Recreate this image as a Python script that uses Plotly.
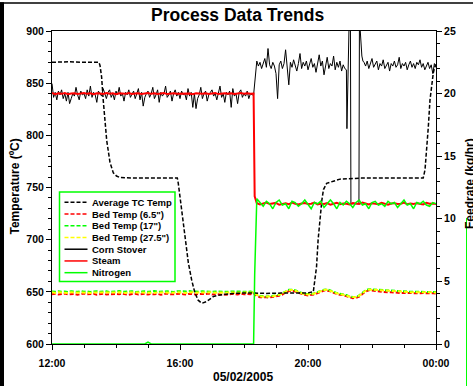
import pandas as pd
import plotly.graph_objects as go

BASE = pd.Timestamp("2005-05-02 12:00")

# ---------------- tick labels ----------------
x_tick_minutes = [0, 240, 480, 720]
x_tick_text = ["12:00", "16:00", "20:00", "00:00"]
temp_ticks = [600, 650, 700, 750, 800, 850, 900]
feed_ticks = [0, 5, 10, 15, 20, 25]

# ---------------- Average TC Temp (deg C, left axis) ----------------
tc_minutes = [0, 30, 60, 88, 90, 93, 96, 99.5, 102.6, 108.75, 115, 121, 128, 160, 200, 235,
              236.8, 240, 243, 249, 255.6, 262, 268, 274, 280.7, 290, 302.4, 315, 340, 370,
              400, 430, 460, 480, 490, 496, 499, 502.5, 506, 509, 515, 527.5, 540, 580, 620,
              660, 696, 699.4, 702.6, 705.6, 708.75, 712, 715, 718, 720]
tc_values = [870, 870.5, 870, 870, 867, 856, 834, 812, 795, 774, 764, 761, 759.5, 759, 759.3, 759,
             754, 741, 729, 700, 678, 661, 649, 642, 639, 640.7, 645.5, 647, 648.5, 649,
             648.5, 648.8, 649, 649, 650, 674, 700, 722, 738, 748, 754, 756, 758, 759, 759.2,
             759, 759, 767, 786, 808, 834, 850, 860, 866, 868]

# ---------------- Bed temperatures (deg C, 6-minute samples from 12:00) ----------------
bed_step_min = 6
bed_65 = [647.6, 648.2, 647.4, 647.9, 648.3, 647.5, 647.8, 648.0, 647.2, 647.9,
          648.4, 647.6, 647.7, 648.1, 647.3, 647.9, 648.2, 647.5, 647.8, 647.4,
          648.0, 647.7, 648.3, 647.6, 647.2, 647.9, 648.1, 647.5, 647.8, 648.2,
          647.4, 647.9, 647.6, 648.0, 647.3, 647.8, 648.3, 647.6, 647.9, 647.5,
          648.1, 647.7, 647.4, 648.2, 647.8, 647.5, 648.0, 647.6, 647.9, 648.3,
          647.4, 647.8, 647.6, 648.1, 647.7, 647.3, 648.0, 647.8, 647.5, 648.2,
          647.6, 647.9, 647.7,
          648.6, 646.0, 644.9, 644.5, 644.7, 644.6, 645.0, 645.3, 646.3, 647.4,
          649.5, 650.6, 651.1, 650.3, 649.2, 647.7, 647.1, 646.6, 646.9, 647.5,
          648.8, 650.0, 651.2, 651.1, 650.5, 649.0, 647.9, 647.1, 646.8, 645.6,
          644.6, 643.9, 644.1, 645.4, 648.0, 650.2, 651.5, 651.1, 650.8, 650.2,
          650.0, 649.9, 649.5, 649.6, 649.2, 649.3, 648.9, 649.0, 648.8, 649.0,
          648.7, 648.9, 648.6, 648.8, 648.5, 648.7, 648.6, 648.5]
bed_17 = [650.3, 650.0, 650.6, 650.1, 650.4, 649.9, 650.5, 650.2, 650.0, 650.7,
          650.1, 650.4, 649.8, 650.3, 650.6, 650.0, 650.2, 650.5, 649.9, 650.4,
          650.2, 650.7, 650.0, 650.3, 650.1, 650.6, 649.9, 650.4, 650.2, 650.5,
          650.0, 650.3, 650.8, 650.1, 650.4, 650.0, 650.5, 650.2, 649.9, 650.6,
          650.3, 650.0, 650.4, 650.7, 650.1, 650.3, 650.0, 650.5, 650.2, 650.6,
          649.9, 650.3, 650.1, 650.5, 650.2, 650.0, 650.4, 650.6, 650.1, 650.3,
          650.0, 650.4, 650.2,
          649.6, 647.4, 646.2, 645.8, 645.5, 645.9, 646.0, 646.6, 647.2, 648.7,
          650.5, 651.9, 652.1, 651.6, 650.0, 648.9, 648.0, 647.9, 647.8, 648.7,
          649.8, 651.2, 652.1, 652.4, 651.5, 650.2, 648.8, 648.4, 647.6, 646.9,
          645.6, 645.0, 645.2, 646.6, 649.1, 651.4, 652.5, 652.3, 651.8, 651.3,
          651.2, 650.9, 650.8, 650.6, 650.5, 650.3, 650.2, 650.1, 650.1, 650.0,
          650.0, 650.1, 649.9, 650.0, 649.8, 649.9, 649.9, 649.8]
bed_275 = [649.5, 649.0, 649.6, 649.2, 649.4, 648.9, 649.7, 649.3, 649.1, 649.5,
           649.2, 649.6, 648.9, 649.4, 649.3, 649.7, 649.0, 649.4, 649.5, 649.1,
           649.3, 649.6, 649.2, 649.0, 649.5, 649.4, 649.8, 649.1, 649.3, 649.6,
           649.2, 649.4, 649.0, 649.5, 649.3, 649.7, 649.2, 649.4, 649.1, 649.6,
           649.3, 649.5, 649.0, 649.4, 649.7, 649.2, 649.3, 649.6, 649.1, 649.4,
           649.5, 649.2, 649.6, 649.3, 649.0, 649.4, 649.5, 649.2, 649.3, 649.6,
           649.1, 649.4, 649.3,
           649.3, 647.0, 645.8, 645.4, 645.3, 645.5, 645.7, 646.2, 647.0, 648.3,
           650.2, 651.5, 651.8, 651.2, 649.8, 648.5, 647.7, 647.5, 647.6, 648.3,
           649.5, 650.8, 651.8, 652.0, 651.2, 649.8, 648.6, 648.0, 647.4, 646.5,
           645.3, 644.7, 644.8, 646.3, 648.8, 651.0, 652.2, 652.0, 651.5, 651.0,
           650.8, 650.6, 650.4, 650.3, 650.1, 650.0, 649.8, 649.8, 649.7, 649.7,
           649.6, 649.7, 649.5, 649.6, 649.4, 649.5, 649.5, 649.4]

# ---------------- Corn Stover feed (kg/hr, right axis) ----------------
corn_pre_start, corn_step_min = 0, 3          # 12:00 ... 18:18
corn_pre = [20.8, 19.7, 20.1, 19.5, 20.2, 19.9, 20.3, 19.6, 20.0, 19.4,
            20.1, 19.2, 19.6, 20.0, 19.8, 20.5, 19.9, 19.5, 20.2, 19.9,
            20.0, 19.6, 20.3, 19.8, 20.6, 19.7, 20.1, 19.9, 19.3, 20.2,
            20.0, 19.8, 20.4, 19.9, 19.6, 20.1, 20.3, 19.7, 20.0, 19.5,
            20.2, 19.9, 20.5, 19.8, 20.0, 19.4, 20.1, 19.9, 20.3, 19.7,
            19.9, 20.2, 19.6, 20.0, 20.4, 19.5, 20.1, 19.0, 19.7, 20.0,
            20.2, 19.7, 20.0, 20.5, 19.6, 19.9, 20.3, 19.3, 20.1, 19.8,
            20.0, 20.6, 19.7, 19.9, 20.2, 19.4, 20.0, 20.3, 19.8, 20.1,
            19.6, 20.2, 19.9, 20.0, 19.5, 20.4, 19.8, 20.1, 18.9, 20.0,
            18.8, 19.6, 19.9, 20.5, 19.6, 20.0, 20.2, 19.4, 19.9, 20.1,
            20.3, 19.8, 20.0, 19.5, 20.2, 20.6, 19.7, 20.0, 19.3, 20.1,
            19.9, 20.2, 18.9, 20.4, 19.8, 20.0, 19.2, 20.1, 20.3, 19.7,
            20.0, 19.8, 20.2, 19.6, 20.0, 19.9, 19.9]
corn_mid_start = 381                            # 18:21 ... 21:12
corn_mid = [21.6, 22.6, 22.2, 22.5, 22.0, 22.4, 22.8, 22.1, 23.6, 22.3,
            22.0, 22.5, 22.2, 21.6, 19.6, 22.3, 22.6, 22.0, 22.4, 23.5,
            22.2, 20.7, 22.5, 22.1, 22.7, 22.3, 21.8, 22.4, 23.2, 22.0,
            22.5, 22.2, 22.6, 21.9, 22.3, 22.8, 22.1, 22.4, 21.7, 22.5,
            23.1, 22.2, 22.6, 21.5, 22.3, 22.9, 22.0, 22.4, 22.2, 23.0,
            21.9, 22.5, 22.1, 22.6, 21.8, 22.3, 22.0, 21.9]
corn_event_minutes = [553, 554.5, 556, 557.5, 559.5, 560.5, 575.5, 576.5, 578, 579.5, 581, 583]
corn_event_values = [17.2, 21.8, 22.2, 26.5, 26.5, 11.2, 11.2, 26.5, 25.0, 23.8, 23.0, 22.6]
corn_tail_start = 585                           # 21:45 ... 00:00
corn_tail = [22.5, 22.2, 22.6, 22.0, 22.4, 22.8, 22.1, 22.3, 22.6, 21.9,
             22.4, 22.2, 22.7, 22.0, 22.3, 22.5, 21.8, 22.4, 22.2, 22.6,
             22.1, 22.3, 22.9, 22.0, 22.4, 22.2, 22.5, 21.9, 22.3, 22.6,
             22.1, 22.4, 22.0, 22.5, 22.3, 22.7, 22.1, 22.4, 21.9, 22.2,
             22.5, 22.0, 22.3, 21.6, 22.4, 22.1]

# ---------------- Steam and Nitrogen (kg/hr, right axis) ----------------
feed_minutes = list(range(0, 379, 6)) + [380] + list(range(384, 721, 6))
steam_values = [20.05, 19.96, 20.02, 19.98, 20.04, 19.95, 20.01, 20.03, 19.97, 20.0,
                20.05, 19.98, 20.02, 19.96, 20.03, 20.0, 19.97, 20.04, 19.99, 20.02,
                19.95, 20.03, 20.0, 19.98, 20.05, 19.97, 20.01, 20.03, 19.96, 20.0,
                20.04, 19.98, 20.02, 19.97, 20.0, 20.05, 19.96, 20.01, 20.03, 19.98,
                20.0, 19.97, 20.04, 20.01, 19.95, 20.02, 20.0, 19.98, 20.03, 19.97,
                20.01, 20.04, 19.96, 20.0, 20.02, 19.98, 20.03, 19.97, 20.0, 20.04,
                19.99, 20.02, 19.98, 20.0,
                11.8,
                11.25, 11.15, 11.22, 11.3, 11.18, 11.2, 11.27, 11.12, 11.2, 11.24,
                11.16, 11.3, 11.2, 11.14, 11.22, 11.26, 11.18, 11.2, 11.3, 11.15,
                11.22, 11.19, 11.25, 11.12, 11.2, 11.28, 11.17, 11.22, 11.2, 11.14,
                11.26, 11.2, 11.18, 11.3, 11.21, 11.15, 11.24, 11.2, 11.17, 11.27,
                11.2, 11.13, 11.22, 11.25, 11.18, 11.2, 11.3, 11.16, 11.22, 11.19,
                11.25, 11.2, 11.15, 11.28, 11.2, 11.22, 11.18]
nitrogen_values = [0, 0, 0, 0, 0, 0, 0, 0, 0, 0,
                   0, 0, 0, 0, 0, 0, 0, 0, 0, 0,
                   0, 0, 0, 0, 0, 0, 0, 0, 0, 0,
                   0.15, 0, 0, 0, 0, 0, 0, 0, 0, 0,
                   0, 0, 0, 0, 0, 0, 0, 0, 0, 0,
                   0, 0, 0, 0, 0, 0, 0, 0, 0, 0,
                   0, 0, 0, 0,
                   5.5,
                   11.6, 11.3, 11.0, 11.4, 11.2, 10.8, 11.3, 11.5, 11.1, 11.2,
                   10.8, 11.4, 11.3, 11.0, 11.2, 11.5, 11.1, 10.8, 11.3, 11.2,
                   11.4, 10.9, 11.2, 11.5, 11.2, 10.8, 11.3, 11.1, 11.4, 11.2,
                   10.9, 11.3, 11.5, 11.1, 11.2, 10.8, 11.3, 11.4, 11.1, 11.2,
                   11.0, 11.4, 11.2, 11.3, 10.9, 11.2, 11.5, 11.1, 11.2, 10.8,
                   11.3, 11.2, 11.4, 11.1, 11.0, 11.3, 11.2]

FONT = "Arial, Liberation Sans, sans-serif"


def to_time(minutes):
    return BASE + pd.to_timedelta(pd.Series(minutes, dtype=float), unit="m")


bed_minutes = [bed_step_min * i for i in range(len(bed_275))]
corn_minutes = ([corn_pre_start + corn_step_min * i for i in range(len(corn_pre))]
                + [corn_mid_start + corn_step_min * i for i in range(len(corn_mid))]
                + corn_event_minutes
                + [corn_tail_start + corn_step_min * i for i in range(len(corn_tail))])
corn_values = corn_pre + corn_mid + corn_event_values + corn_tail

DASH = "4px,2px"
fig = go.Figure()
fig.add_trace(go.Scatter(x=to_time(corn_minutes), y=corn_values, yaxis="y2", mode="lines",
                         name="Corn Stover", line=dict(color="black", width=1)))
fig.add_trace(go.Scatter(x=to_time(feed_minutes), y=steam_values, yaxis="y2", mode="lines",
                         name="Steam", line=dict(color="#ff0000", width=2)))
fig.add_trace(go.Scatter(x=to_time(feed_minutes), y=nitrogen_values, yaxis="y2", mode="lines",
                         name="Nitrogen", line=dict(color="#00ff00", width=1.5)))
fig.add_trace(go.Scatter(x=to_time(bed_minutes), y=bed_65, mode="lines", name='Bed Temp (6.5")',
                         line=dict(color="#ff0000", width=2, dash=DASH)))
fig.add_trace(go.Scatter(x=to_time(bed_minutes), y=bed_17, mode="lines", name='Bed Temp (17")',
                         line=dict(color="#00ff00", width=2, dash=DASH)))
fig.add_trace(go.Scatter(x=to_time(bed_minutes), y=bed_275, mode="lines", name='Bed Temp (27.5")',
                         line=dict(color="#ffff00", width=2, dash=DASH)))
fig.add_trace(go.Scatter(x=to_time(tc_minutes), y=tc_values, mode="lines", name="Average TC Temp",
                         line=dict(color="black", width=1.5, dash=DASH)))

# ---------------- layout geometry helpers (pixels -> paper) ----------------
W, H = 473, 386
L, R, T, B = 52, 436, 31, 344


def px(x):
    return (x - L) / (R - L)


def py(y):
    return (B - y) / (B - T)


shapes = []
annotations = []

# outer frame fragments (drawn below the plot layer, outside the plot area)
shapes.append(dict(type="rect", xref="paper", yref="paper", layer="below",
                   x0=px(0), x1=px(W), y0=py(2.3), y1=py(3.8),
                   fillcolor="black", line=dict(width=0)))
shapes.append(dict(type="rect", xref="paper", yref="paper", layer="below",
                   x0=px(0), x1=px(4), y0=py(2.3), y1=py(H),
                   fillcolor="black", line=dict(width=0)))
shapes.append(dict(type="line", xref="paper", yref="paper", x0=px(466.5), x1=px(466.5), y0=py(218),
                   y1=py(H), line=dict(color="#00ff00", width=1)))

# custom legend
legend_items = [("Average TC Temp", "black", DASH),
                ('Bed Temp (6.5")', "#ff0000", DASH),
                ('Bed Temp (17")', "#00ff00", DASH),
                ('Bed Temp (27.5")', "#ffff00", DASH),
                ("Corn Stover", "black", "solid"),
                ("Steam", "#ff0000", "solid"),
                ("Nitrogen", "#00ff00", "solid")]
shapes.append(dict(type="rect", xref="paper", yref="paper", x0=px(59.5), x1=px(175), y0=py(192),
                   y1=py(281.5), fillcolor="white", line=dict(color="#00ff00", width=1.5)))
for i, (name, color, dash) in enumerate(legend_items):
    yy = 202.3 + i * 11.73
    shapes.append(dict(type="line", xref="paper", yref="paper", x0=px(64.5), x1=px(87.5),
                       y0=py(yy), y1=py(yy), line=dict(color=color, width=1.5, dash=dash)))
    annotations.append(dict(xref="paper", yref="paper", x=px(90), y=py(yy), text=name,
                            showarrow=False, xanchor="left", yanchor="middle",
                            font=dict(family=FONT, size=9.5, color="black", weight="bold")))

# titles
annotations.append(dict(xref="paper", yref="paper", x=px(237.5), y=py(15.5), text="Process Data Trends",
                        showarrow=False, xanchor="center", yanchor="middle",
                        font=dict(family=FONT, size=17.5, color="black", weight="bold")))
annotations.append(dict(xref="paper", yref="paper", x=px(14), y=py(186.5), text="Temperature (ºC)",
                        showarrow=False, xanchor="center", yanchor="middle", textangle=-90,
                        font=dict(family=FONT, size=12, color="black", weight="bold")))
annotations.append(dict(xref="paper", yref="paper", x=px(470), y=py(184), text="Feedrate (kg/hr)",
                        showarrow=False, xanchor="center", yanchor="middle", textangle=-90,
                        font=dict(family=FONT, size=12, color="black", weight="bold")))
annotations.append(dict(xref="paper", yref="paper", x=px(243), y=py(377), text="05/02/2005",
                        showarrow=False, xanchor="center", yanchor="middle",
                        font=dict(family=FONT, size=12, color="black", weight="bold")))

tick_font = dict(family=FONT, size=10.5, color="black", weight="bold")
fig.update_layout(
    width=W, height=H, autosize=False,
    margin=dict(l=L, r=W - R, t=T, b=H - B, pad=0),
    paper_bgcolor="white", plot_bgcolor="white",
    showlegend=False,
    shapes=shapes, annotations=annotations,
    xaxis=dict(type="date", range=[BASE, BASE + pd.Timedelta(minutes=720)],
               tickmode="array", tickvals=list(to_time(x_tick_minutes)), ticktext=x_tick_text,
               ticks="outside", ticklen=5, tickwidth=1, tickcolor="black", ticklabelstandoff=4,
               minor=dict(tickmode="array", tickvals=list(to_time(list(range(0, 721, 60)))),
                          ticks="outside", ticklen=3, tickwidth=1, tickcolor="black"),
               showline=True, linecolor="black", linewidth=1, mirror=True,
               showgrid=False, zeroline=False, tickfont=tick_font),
    yaxis=dict(range=[600, 900], tickmode="array", tickvals=temp_ticks,
               ticks="outside", ticklen=5, tickwidth=1, tickcolor="black",
               minor=dict(tickmode="array", tickvals=list(range(600, 901, 10)),
                          ticks="outside", ticklen=3, tickwidth=1, tickcolor="black"),
               showline=True, linecolor="black", linewidth=1,
               showgrid=False, zeroline=False, tickfont=tick_font),
    yaxis2=dict(range=[0, 25], overlaying="y", side="right", tickmode="array", tickvals=feed_ticks,
                ticks="outside", ticklen=5, tickwidth=1, tickcolor="black",
                minor=dict(tickmode="array", tickvals=list(range(0, 26)),
                           ticks="outside", ticklen=3, tickwidth=1, tickcolor="black"),
                showline=True, linecolor="black", linewidth=1,
                showgrid=False, zeroline=False, tickfont=tick_font),
)

fig.write_html(
    "out.html",
    config={"displayModeBar": False},
    post_script="document.body.style.margin='0';document.body.style.padding='0';"
                "document.documentElement.style.overflow='hidden';",
)
